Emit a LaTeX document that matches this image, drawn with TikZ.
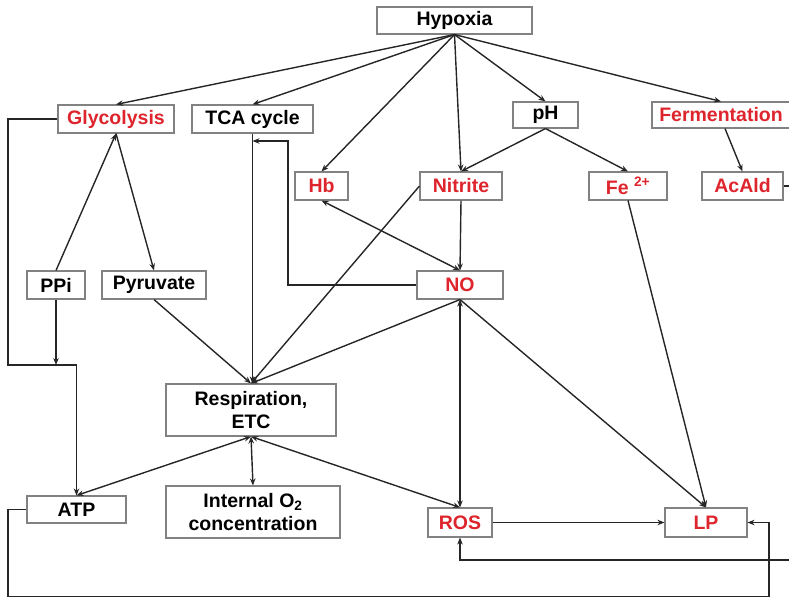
\documentclass[tikz,border=0pt]{standalone}
\usepackage{fontspec}
\setmainfont{Liberation Sans}
\usepackage{xcolor}
\usepackage{tikz}
\usetikzlibrary{positioning, arrows.meta}
\definecolor{hypred}{RGB}{222,36,44}
\definecolor{boxgray}{RGB}{130,130,130}

\begin{document}
\begin{tikzpicture}[
    x=1pt, y=-1pt,
    box/.style={rectangle, draw=boxgray, line width=1.1pt, fill=white,
      inner sep=0pt, align=center, minimum height=28pt,
      font=\fontsize{19.5}{23}\selectfont\bfseries},
    rbox/.style={box, text=hypred},
    arr/.style={-{Stealth[length=7pt, width=5.5pt]}, line width=1.4pt, black!85},
    dbl/.style={{Stealth[length=7pt, width=5.5pt]}-{Stealth[length=7pt, width=5.5pt]}, line width=1.4pt, black!85}]
    \useasboundingbox (0,0) rectangle (789,598);
    % nodes
    \node[box, minimum width=155pt, minimum height=27pt] (hyp) at (454.5,20.5) {Hypoxia};
    \node[rbox, minimum width=116pt] (glyc) at (116,119) {Glycolysis};
    \node[box, minimum width=121pt] (tca) at (252.5,119) {TCA cycle};
    \node[box, minimum width=65pt, minimum height=26pt] (ph) at (545.5,115) {pH};
    \node[rbox, minimum width=138pt, minimum height=26pt] (ferm) at (721,115) {Fermentation};
    \node[rbox, minimum width=53pt] (hb) at (321.5,186) {Hb};
    \node[rbox, minimum width=82pt] (nit) at (461,186) {Nitrite};
    \node[rbox, minimum width=78pt] (fe) at (628,186) {Fe \textsuperscript{2+}};
    \node[rbox, minimum width=81pt] (acald) at (742.5,186) {AcAld};
    \node[box, minimum width=58pt] (ppi) at (56,285) {PPi};
    \node[box, minimum width=104pt] (pyr) at (154,285) {Pyruvate};
    \node[rbox, minimum width=86pt] (no) at (460,285) {NO};
    \node[box, minimum width=170pt, minimum height=52pt] (resp) at (251,410) {Respiration,\\ETC};
    \node[box, minimum width=99pt, minimum height=27pt] (atp) at (76.5,509.5) {ATP};
    \node[box, minimum width=174pt, minimum height=52pt] (o2) at (253,512) {Internal O\textsubscript{2}\\concentration};
    \node[rbox, minimum width=64pt, minimum height=29pt] (ros) at (460,522.5) {ROS};
    \node[rbox, minimum width=82pt, minimum height=29pt] (lp) at (706,522.5) {LP};
    % bend points
    \coordinate (gl) at (8,365);
    \coordinate (nobend) at (288,285);
    \coordinate (tcain) at (252.5,141);
    \coordinate (bl) at (8,596.5);
    \coordinate (br) at (769,596.5);
    \coordinate (ar) at (792,186);
    \coordinate (arb) at (792,560);
    % from hypoxia
    \draw[arr] (hyp.south) -- (glyc.north);
    \draw[arr] (hyp.south) -- (tca.north);
    \draw[arr] (hyp.south) -- (hb.north);
    \draw[arr] (hyp.south) -- (nit.north);
    \draw[arr] (hyp.south) -- (ph.north);
    \draw[arr] (hyp.south) -- (ferm.north);
    \draw[arr] (ph.south) -- (nit.north);
    \draw[arr] (ph.south) -- (fe.north);
    \draw[arr] ([xshift=4pt]ferm.south) -- (acald.north);
    % glycolysis side
    \draw[arr] (glyc.south) -- (pyr.north);
    \draw[arr] (ppi.north) -- (glyc.south);
    \draw[arr] (ppi.south) -- (ppi.south |- gl);
    \draw[arr] (glyc.west) -| (gl) -| (atp.north);
    % into respiration
    \draw[arr] (tca.south) -- (tca.south |- resp.north);
    \draw[arr] (no.west) -- (nobend) |- (tcain);
    \draw[arr] (pyr.south) -- (resp.north);
    \draw[arr] (nit.west) -- (resp.north);
    \draw[arr] (no.south) -- (resp.north);
    % NO links
    \draw[dbl] (hb.south) -- (no.north);
    \draw[arr] (nit.south) -- (no.north);
    \draw[dbl] (no.south) -- (ros.north);
    \draw[arr] (no.south) -- (lp.north);
    \draw[arr] (fe.south) -- (lp.north);
    \draw[arr] (ros.east) -- (lp.west);
    % out of respiration
    \draw[dbl] (resp.south) -- (atp.north);
    \draw[dbl] (resp.south) -- (o2.north);
    \draw[dbl] (resp.south) -- (ros.north);
    % feedback loops
    \draw[arr] (atp.west) -| (bl) -- (br) |- (lp.east);
    \draw[arr] (acald.east) -- (ar) -- (arb) -| (ros.south);
\end{tikzpicture}
\end{document}
